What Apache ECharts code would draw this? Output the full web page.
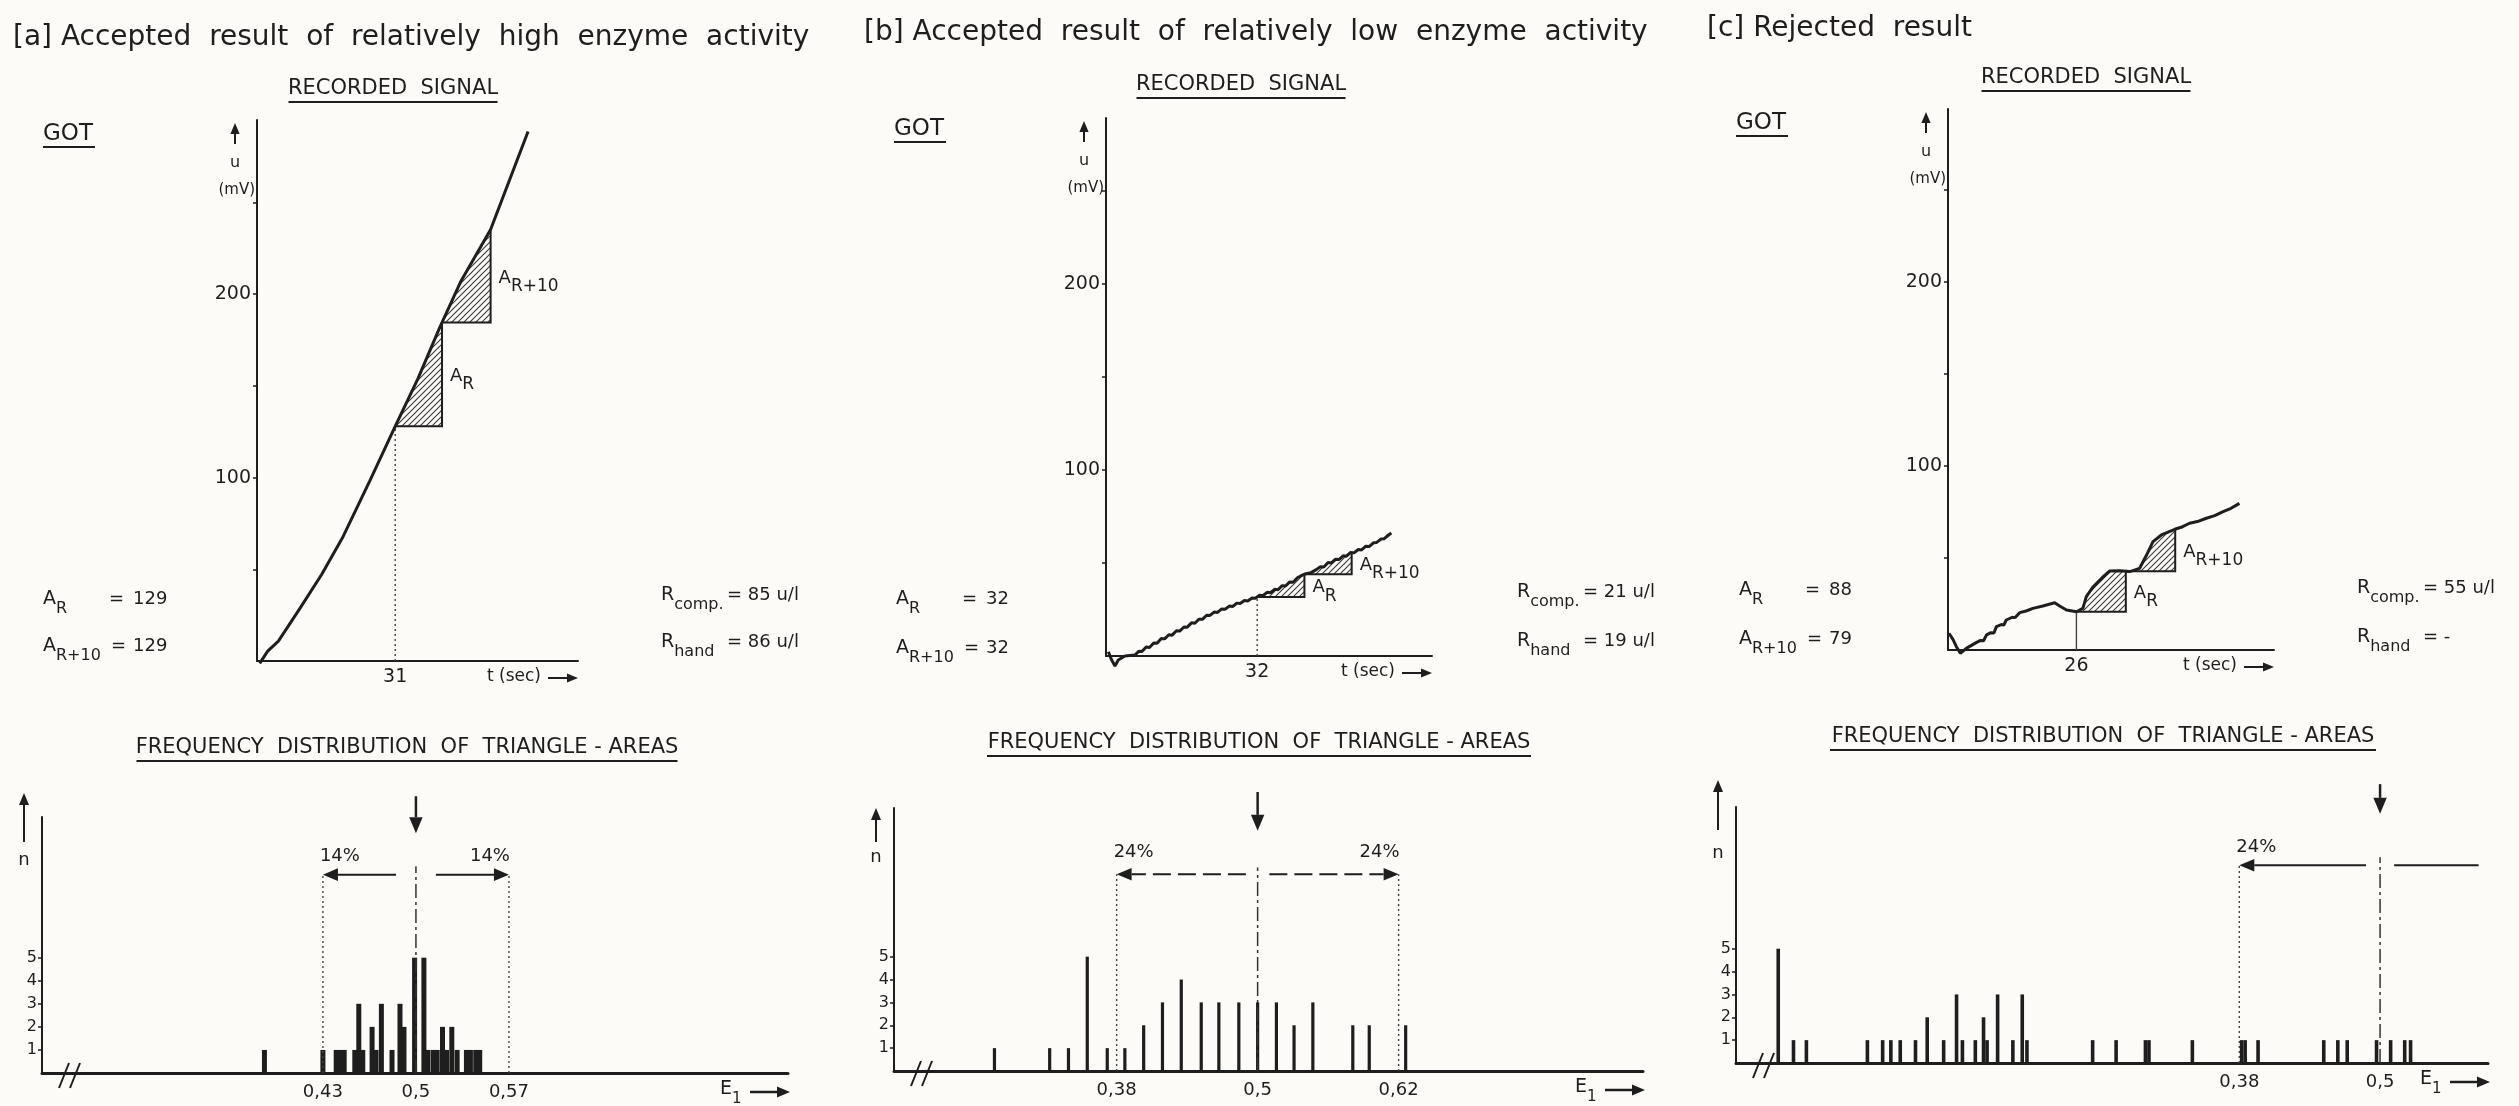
<!DOCTYPE html>
<html>
<head>
<meta charset="utf-8">
<script src="https://cdn.jsdelivr.net/npm/echarts@6.0.0/dist/echarts.min.js"></script>
<style>
  html, body { margin: 0; padding: 0; background: #fcfbf8; }
  #chart { width: 2519px; height: 1106px; }
</style>
</head>
<body>
<div id="chart"></div>
<script>
// ---- data ----
var titles = [
  '[a] Accepted  result  of  relatively  high  enzyme  activity',
  '[b] Accepted  result  of  relatively  low  enzyme  activity',
  '[c] Rejected  result'
];
var areaR = ['129', '32', '88'];
var areaR10 = ['129', '32', '79'];
var rComp = ['85 u/l', '21 u/l', '55 u/l'];
var rHand = ['86 u/l', '19 u/l', '-'];

// recorded signal, [t (sec), u (mV)]
var signalA = [[0.6,-1.3],[2.4,5.4],[4.8,10.8],[9.7,29],[14.5,47.2],[19.3,67.8],[25.3,98.2],[31.1,128.5],
  [36.1,154],[41,181.9],[45.8,207.4],[52.4,235.3],[56.6,262],[60.8,288.7]];
var signalB = [[0.5,2.3],[1.2,-2.2],[1.9,-5.4],[2.6,-2.2],[4,0],[6.1,0.5],[7,2.6],[7.6,2.4],[8.5,4.8],[9.2,4.6],
  [10.1,7],[10.8,6.8],[11.7,9.4],[12.4,9.2],[13.3,11.4],[14,11.2],[14.9,13.6],[15.6,13.4],[16.5,15.6],[17.2,15.5],
  [18.1,17.8],[18.8,17.6],[19.7,19.8],[20.4,19.7],[21.3,21.9],[22,21.8],[22.9,23.6],[23.6,23.4],[24.5,25.3],
  [25.2,25.1],[26.1,26.8],[26.8,26.6],[27.7,28.4],[28.4,28.2],[29.3,29.8],[30,29.6],[30.9,31.2],[31.6,31],
  [32.5,32.6],[33.2,32.4],[34.1,34.2],[34.8,34],[35.7,35.8],[36.4,35.6],[37.3,37.8],[38,37.6],[38.9,39.8],
  [39.6,39.6],[40.5,42],[41.2,43],[42.3,44.2],[43.4,44.8],[44.5,46.4],[45.4,48],[46.1,47.8],[47,50.2],[47.7,50],
  [48.6,52],[49.3,51.8],[50.2,53.8],[50.9,53.6],[51.8,55.6],[52.5,55.4],[53.4,57.2],[54.1,57],[55,59],[55.7,58.8],
  [56.6,60.8],[57.3,61],[58.2,62.8],[58.9,63],[59.8,65],[60.4,66.1]];
var signalC = [[0.2,9.1],[1,5.8],[1.7,1.8],[2.5,-1.8],[3.7,0.9],[5.7,4],[6.6,5.2],[7.2,5],[7.8,8.2],[8.7,9.4],
  [9.3,9.2],[9.8,12.7],[10.8,13.8],[11.3,13.6],[11.8,16.3],[13,17.8],[13.6,17.6],[14.5,20.3],[15.8,21.2],
  [17.2,22.6],[19.2,23.9],[21.6,25.7],[22.6,23.9],[24,21.7],[26,20.8],[27.3,22.6],[28,29],[29.4,34.4],[31.1,39],
  [32.7,42.9],[34.8,43.1],[36.8,42.6],[38.8,44.4],[40.2,51.6],[41.5,58.9],[43.2,62.5],[45.9,65.6],[47.5,67],
  [48.9,68.9],[50.5,69.8],[52.3,71.6],[54,73],[55.7,75.2],[57.3,77],[59,79.7]];

// t_R, t_R+10, t_R+20 (edges of the hatched triangles A_R and A_R+10)
var windowA = [31, 41.5, 52.4];
var windowB = [32, 42, 52];
var windowC = [26, 36, 46];

// frequency distribution of triangle areas, [E1, n]
var histA = [[0.386,1],[0.430,1],[0.440,1],[0.443,1],[0.446,1],[0.454,1],[0.457,3],[0.460,1],[0.467,2],[0.470,1],
  [0.474,3],[0.482,1],[0.488,3],[0.491,2],[0.499,5],[0.506,5],[0.509,1],[0.513,1],[0.516,1],[0.520,2],[0.523,1],
  [0.527,2],[0.531,1],[0.538,1],[0.541,1],[0.545,1],[0.548,1]];
var histB = [[0.276,1],[0.323,1],[0.339,1],[0.355,5],[0.372,1],[0.387,1],[0.403,2],[0.419,3],[0.435,4],[0.452,3],
  [0.467,3],[0.484,3],[0.500,3],[0.516,3],[0.531,2],[0.547,3],[0.581,2],[0.595,2],[0.626,2]];
var histC = [[-0.013,5],[0.000,1],[0.011,1],[0.063,1],[0.076,1],[0.083,1],[0.091,1],[0.104,1],[0.114,2],[0.128,1],
  [0.139,3],[0.144,1],[0.155,1],[0.162,2],[0.165,1],[0.174,3],[0.187,1],[0.195,3],[0.199,1],[0.255,1],[0.275,1],
  [0.300,1],[0.303,1],[0.340,1],[0.382,1],[0.385,1],[0.396,1],[0.452,1],[0.464,1],[0.472,1],[0.497,1],[0.509,1],
  [0.521,1],[0.526,1]];

// acceptance limits [lower, centre, upper] and their labels
var limitsA = [0.43, 0.5, 0.57];
var limitsB = [0.38, 0.5, 0.62];
var limitsC = [0.38, 0.5, null];
var percentA = ['14%', '14%'];
var percentB = ['24%', '24%'];
var percentC = ['24%', null];

// ---- layout ----
var ink = '#1e1e1e';
var font = 'DejaVu Sans';

var signals = [signalA, signalB, signalC];
var windows = [windowA, windowB, windowC];
var hists = [histA, histB, histC];
var limits = [limitsA, limitsB, limitsC];
var percents = [percentA, percentB, percentC];

var topLay = [
  { left: 257, top: 120, width: 321, height: 541, tmax: 72, umax: 295, title: [13, 38], rec: [393, 89, 209], got: [43, 134], vals: [43, 603, 650], rvals: [661, 599, 646] },
  { left: 1106, top: 118, width: 326, height: 538, tmax: 69, umax: 289, title: [864, 33], rec: [1241, 85, 209], got: [894, 129], vals: [896, 603, 652], rvals: [1517, 596, 645] },
  { left: 1948, top: 109, width: 326, height: 541, tmax: 66, umax: 294, title: [1707, 29], rec: [2086, 78, 209], got: [1736, 123], vals: [1739, 594, 643], rvals: [2357, 592, 641] }
];
var botLay = [
  { left: 42, top: 817, width: 746, height: 256, emin: 0.2186, emax: 0.78, nmax: 11.1, barW: 5, freq: [407, 748, 541], nArrow: [793, 842], nY: 860, arrowY: 8.6, pctY: 9.4, down: [12.0, 10.4], centerTop: 8.96, gap: 0.015, rightEnd: null, dash: null },
  { left: 894, top: 808, width: 749, height: 263, emin: 0.1905, emax: 0.828, nmax: 11.5, barW: 3.2, freq: [1259, 743, 544], nArrow: [808, 842], nY: 857, arrowY: 8.6, pctY: 9.56, down: [12.2, 10.5], centerTop: 8.9, gap: 0.01, rightEnd: null, dash: [18, 7] },
  { left: 1736, top: 807, width: 752, height: 256, emin: -0.049, emax: 0.592, nmax: 11.2, barW: 3.6, freq: [2103, 737, 546], nArrow: [780, 830], nY: 853, arrowY: 8.65, pctY: 9.43, down: [12.2, 10.9], centerTop: 9.0, gap: 0.012, rightEnd: 0.584, dash: null }
];

function interp(curve, t) {
  for (var k = 1; k < curve.length; k++) {
    if (curve[k][0] >= t) {
      var a = curve[k - 1], b = curve[k];
      return a[1] + (b[1] - a[1]) * (t - a[0]) / (b[0] - a[0]);
    }
  }
  return curve[curve.length - 1][1];
}

// hatch pattern for the triangle areas
var hatch = document.createElement('canvas');
hatch.width = 6; hatch.height = 6;
var hg = hatch.getContext('2d');
hg.strokeStyle = '#3a3a3a'; hg.lineWidth = 1.1;
hg.beginPath();
hg.moveTo(0, 6); hg.lineTo(6, 0);
hg.moveTo(-1, 1); hg.lineTo(1, -1);
hg.moveTo(5, 7); hg.lineTo(7, 5);
hg.stroke();

var chart = echarts.init(document.getElementById('chart'), null, { renderer: 'canvas' });

var grids = [], xAxes = [], yAxes = [], series = [];

topLay.forEach(function (L, i) {
  grids.push({ left: L.left, top: L.top, width: L.width, height: L.height, containLabel: false, outerBoundsMode: 'none' });
  xAxes.push({
    gridIndex: i, type: 'value', min: 0, max: L.tmax,
    axisLine: { onZero: false, lineStyle: { color: ink, width: 2 } },
    axisTick: { show: false }, splitLine: { show: false },
    axisLabel: { customValues: [windows[i][0]], color: ink, fontSize: 19, fontFamily: font, margin: 7 }
  });
  yAxes.push({
    gridIndex: i, type: 'value', min: 0, max: L.umax,
    axisLine: { show: true, onZero: false, lineStyle: { color: ink, width: 2 } },
    axisTick: { show: true, customValues: [50, 100, 150, 200, 250], length: 4, lineStyle: { color: ink, width: 1.5 } },
    splitLine: { show: false },
    axisLabel: { customValues: [100, 200], color: ink, fontSize: 19, fontFamily: font, margin: 6 }
  });
});
botLay.forEach(function (L, i) {
  grids.push({ left: L.left, top: L.top, width: L.width, height: L.height, containLabel: false, outerBoundsMode: 'none' });
  var lim = limits[i].filter(function (v) { return v !== null; });
  xAxes.push({
    gridIndex: 3 + i, type: 'value', min: L.emin, max: L.emax,
    axisLine: { onZero: false, lineStyle: { color: ink, width: 3 } },
    axisTick: { show: false }, splitLine: { show: false },
    axisLabel: {
      customValues: lim, color: ink, fontSize: 18, fontFamily: font, margin: 10,
      formatter: function (v) { return String(v).replace('.', ','); }
    }
  });
  yAxes.push({
    gridIndex: 3 + i, type: 'value', min: 0, max: L.nmax,
    axisLine: { show: true, onZero: false, lineStyle: { color: ink, width: 2 } },
    axisTick: { show: true, customValues: [1, 2, 3, 4, 5], length: 4, lineStyle: { color: ink, width: 1.5 } },
    splitLine: { show: false },
    axisLabel: { customValues: [1, 2, 3, 4, 5], color: ink, fontSize: 16, fontFamily: font, margin: 5 }
  });
});

signals.forEach(function (sig, i) {
  var w = windows[i];
  series.push({
    type: 'line', xAxisIndex: i, yAxisIndex: i, data: sig, showSymbol: false, clip: false,
    lineStyle: { color: ink, width: 3 }, z: 5
  });
  series.push({
    type: 'line', xAxisIndex: i, yAxisIndex: i, showSymbol: false, clip: false,
    data: [[w[0], 0], [w[0], interp(sig, w[0])]],
    lineStyle: { color: '#444', width: 1.4, type: i === 2 ? 'solid' : [2, 3] }
  });
  series.push({
    type: 'custom', xAxisIndex: i, yAxisIndex: i, clip: false, z: 4,
    data: [[w[0], w[1]], [w[1], w[2]]],
    renderItem: function (params, api) {
      var t0 = api.value(0), t1 = api.value(1);
      var base = interp(sig, t0), topU = interp(sig, t1);
      var pts = [api.coord([t0, base])];
      sig.forEach(function (p) { if (p[0] > t0 && p[0] < t1) pts.push(api.coord(p)); });
      pts.push(api.coord([t1, topU]));
      pts.push(api.coord([t1, base]));
      return {
        type: 'group',
        children: [
          { type: 'polygon', shape: { points: pts }, style: { fill: { image: hatch, repeat: 'repeat' } } },
          { type: 'polyline', shape: { points: [api.coord([t0, base]), api.coord([t1, base]), api.coord([t1, topU])] },
            style: { stroke: ink, lineWidth: 2, fill: null } }
        ]
      };
    }
  });
});

hists.forEach(function (h, i) {
  series.push({
    type: 'bar', xAxisIndex: 3 + i, yAxisIndex: 3 + i, data: h, barWidth: botLay[i].barW,
    itemStyle: { color: ink }, z: 3
  });
});

chart.setOption({
  animation: false,
  backgroundColor: '#fcfbf8',
  textStyle: { fontFamily: font, color: ink },
  grid: grids, xAxis: xAxes, yAxis: yAxes, series: series
});

// ---- annotations, placed through the chart's own scales ----
function px(g, x, y) { return chart.convertToPixel({ gridIndex: g }, [x, y]); }
function txt(x, y, s, size, align, rich) {
  return { type: 'text', x: x, y: y, silent: true, z: 20,
    style: { text: s, fill: ink, fontSize: size, fontFamily: font, align: align || 'left', verticalAlign: 'middle', rich: rich } };
}
function seg(x1, y1, x2, y2, w, dash, color) {
  return { type: 'line', silent: true, z: 20, shape: { x1: x1, y1: y1, x2: x2, y2: y2 },
    style: { stroke: color || ink, lineWidth: w || 2, lineDash: dash || null } };
}
function arrow(x1, y1, x2, y2, w, dash, head) {
  var a = Math.atan2(y2 - y1, x2 - x1), hl = head || 13, hw = (head || 13) * 0.42;
  var bx = x2 - hl * Math.cos(a), by = y2 - hl * Math.sin(a);
  var ox = -Math.sin(a) * hw, oy = Math.cos(a) * hw;
  return [seg(x1, y1, bx, by, w, dash),
    { type: 'polygon', silent: true, z: 20, shape: { points: [[x2, y2], [bx + ox, by + oy], [bx - ox, by - oy]] }, style: { fill: ink } }];
}
function subRich(main, sub) {
  return {
    m: { fontSize: main, fontFamily: font, fill: ink, verticalAlign: 'bottom', padding: [0, 0, Math.round(main * 0.42), 0] },
    s: { fontSize: sub, fontFamily: font, fill: ink, verticalAlign: 'bottom' }
  };
}

var gfx = [];
topLay.forEach(function (L, i) {
  var sig = signals[i], w = windows[i];
  gfx.push(txt(L.title[0], L.title[1], titles[i], 28, 'left'));
  gfx.push(txt(L.rec[0], L.rec[1], 'RECORDED  SIGNAL', 21, 'center'));
  gfx.push(seg(L.rec[0] - L.rec[2] / 2, L.rec[1] + 13, L.rec[0] + L.rec[2] / 2, L.rec[1] + 13, 2));
  gfx.push(txt(L.got[0], L.got[1], 'GOT', 23, 'left'));
  gfx.push(seg(L.got[0], L.got[1] + 13, L.got[0] + 52, L.got[1] + 13, 2));
  // y axis name
  gfx = gfx.concat(arrow(L.left - 22, L.top + 24, L.left - 22, L.top + 3, 2, null, 11));
  gfx.push(txt(L.left - 22, L.top + 43, 'u', 16, 'center'));
  gfx.push(txt(L.left - 2, L.top + 70, '(mV)', 15, 'right'));
  // x axis name
  var bl = L.top + L.height, r = L.left + L.width;
  gfx.push(txt(r - 91, bl + 16, 't (sec)', 17, 'left'));
  gfx = gfx.concat(arrow(r - 30, bl + 17, r, bl + 17, 2, null, 11));
  // A_R labels at the hatched triangles
  var lblR = px(i, w[1], (interp(sig, w[0]) + interp(sig, w[1])) / 2);
  var lblR10 = px(i, w[2], (interp(sig, w[1]) + interp(sig, w[2])) / 2);
  gfx.push(txt(lblR[0] + 8, lblR[1] + 6, '{m|A}{s|R}', 18, 'left', subRich(18, 17)));
  gfx.push(txt(lblR10[0] + 8, lblR10[1] + 6, '{m|A}{s|R+10}', 18, 'left', subRich(18, 17)));
  // results
  var v = L.vals, rv = L.rvals;
  gfx.push(txt(v[0], v[1], '{m|A}{s|R}', 19, 'left', subRich(19, 16)));
  gfx.push(txt(v[0] + 66, v[1] - 4, '=', 18, 'left'));
  gfx.push(txt(v[0] + 90, v[1] - 4, areaR[i], 18, 'left'));
  gfx.push(txt(v[0], v[2], '{m|A}{s|R+10}', 19, 'left', subRich(19, 16)));
  gfx.push(txt(v[0] + 68, v[2] - 4, '=', 18, 'left'));
  gfx.push(txt(v[0] + 90, v[2] - 4, areaR10[i], 18, 'left'));
  gfx.push(txt(rv[0], rv[1], '{m|R}{s|comp.}', 19, 'left', subRich(19, 16)));
  gfx.push(txt(rv[0] + 66, rv[1] - 4, '= ' + rComp[i], 18, 'left'));
  gfx.push(txt(rv[0], rv[2], '{m|R}{s|hand}', 19, 'left', subRich(19, 16)));
  gfx.push(txt(rv[0] + 66, rv[2] - 4, '= ' + rHand[i], 18, 'left'));
});

botLay.forEach(function (L, i) {
  var g = 3 + i, lim = limits[i], pc = percents[i];
  var bl = L.top + L.height, r = L.left + L.width;
  gfx.push(txt(L.freq[0], L.freq[1], 'FREQUENCY  DISTRIBUTION  OF  TRIANGLE - AREAS', 21, 'center'));
  gfx.push(seg(L.freq[0] - L.freq[2] / 2, L.freq[1] + 13, L.freq[0] + L.freq[2] / 2, L.freq[1] + 13, 2));
  // n axis name
  gfx = gfx.concat(arrow(L.left - 18, L.nArrow[1], L.left - 18, L.nArrow[0], 2, null, 12));
  gfx.push(txt(L.left - 18, L.nY, 'n', 18, 'center'));
  // E1 axis name
  gfx.push(txt(r - 68, bl + 20, '{m|E}{s|1}', 19, 'left', subRich(19, 15)));
  gfx = gfx.concat(arrow(r - 38, bl + 19, r + 2, bl + 19, 2.5, null, 13));
  // axis break
  gfx.push(seg(L.left + 17, bl + 15, L.left + 27, bl - 10, 2));
  gfx.push(seg(L.left + 28, bl + 15, L.left + 38, bl - 10, 2));
  // centre line and the down arrow
  var c0 = px(g, lim[1], 0), c1 = px(g, lim[1], L.centerTop);
  gfx.push(seg(c0[0], c0[1], c1[0], c1[1], 1.5, [14, 4, 3, 4], '#333'));
  var d0 = px(g, lim[1], L.down[0]), d1 = px(g, lim[1], L.down[1]);
  gfx = gfx.concat(arrow(d0[0], d0[1], d1[0], d1[1], 2.5, null, 16));
  // lower limit
  var lo0 = px(g, lim[0], 0), lo1 = px(g, lim[0], L.arrowY);
  gfx.push(seg(lo0[0], lo0[1], lo1[0], lo1[1], 1.4, [2, 3], '#444'));
  var la = px(g, lim[1] - L.gap, L.arrowY);
  gfx = gfx.concat(arrow(la[0], la[1], lo1[0], lo1[1], 2, L.dash, 15));
  gfx.push(txt(lo1[0] - 3, px(g, lim[0], L.pctY)[1], pc[0], 18, 'left'));
  // upper limit (or the open end of the arrow)
  if (lim[2] !== null) {
    var hi0 = px(g, lim[2], 0), hi1 = px(g, lim[2], L.arrowY);
    gfx.push(seg(hi0[0], hi0[1], hi1[0], hi1[1], 1.4, [2, 3], '#444'));
    var ra = px(g, lim[1] + L.gap, L.arrowY);
    gfx = gfx.concat(arrow(ra[0], ra[1], hi1[0], hi1[1], 2, L.dash, 15));
    gfx.push(txt(hi1[0] + 1, px(g, lim[2], L.pctY)[1], pc[1], 18, 'right'));
  } else {
    var ra0 = px(g, lim[1] + L.gap, L.arrowY), ra1 = px(g, L.rightEnd, L.arrowY);
    gfx.push(seg(ra0[0], ra0[1], ra1[0], ra1[1], 2));
  }
});

chart.setOption({ graphic: { elements: gfx } });
</script>
</body>
</html>
